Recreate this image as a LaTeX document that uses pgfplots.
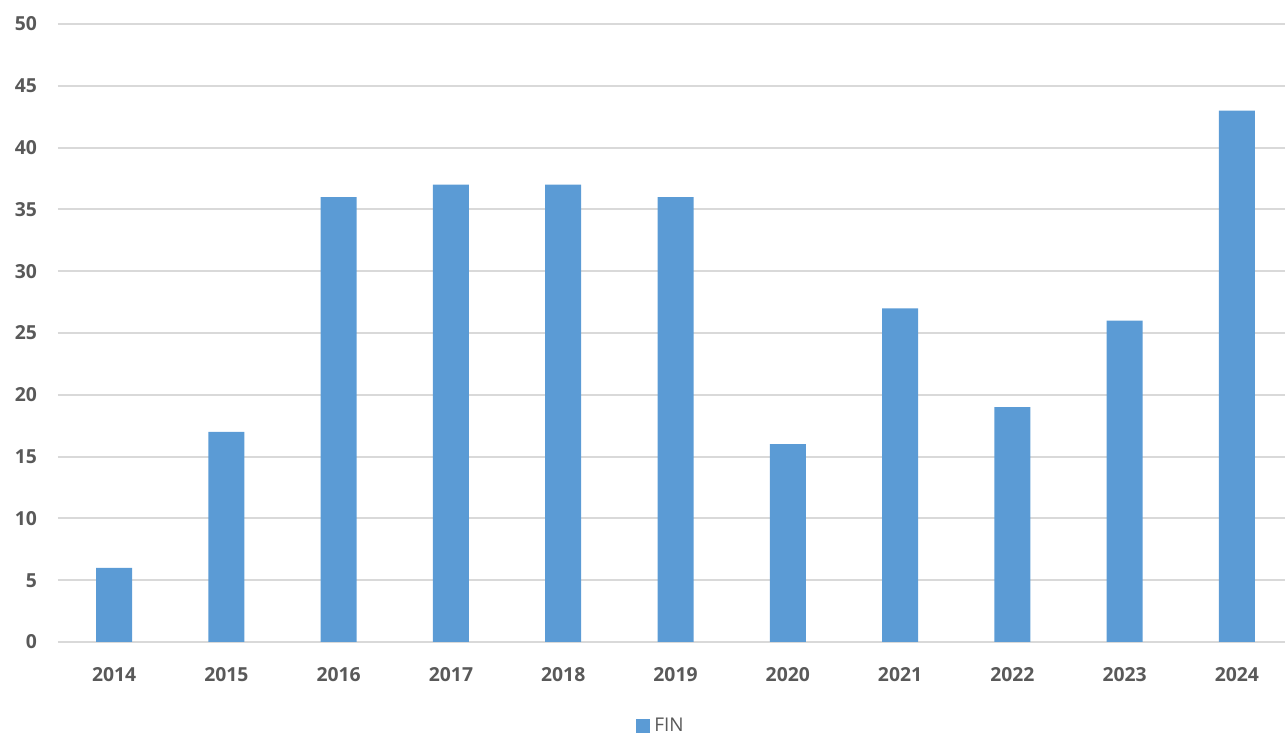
\documentclass[border=0pt]{standalone}
\usepackage{pgfplots}
\pgfplotsset{compat=1.18}
\usepackage{fontspec}
\setmainfont{Open Sans}
\definecolor{barblue}{HTML}{5B9BD5}
\definecolor{txtgray}{HTML}{595959}
\definecolor{gridgray}{HTML}{D9D9D9}
\begin{document}
\begin{tikzpicture}
\path[use as bounding box] (0,0) rectangle (642.5bp,368bp);
\begin{axis}[
  at={(29bp,47bp)}, anchor=south west,
  scale only axis,
  width=617.5bp, height=309bp,
  ymin=0, ymax=50, ytick={0,5,...,50},
  xmin=-0.5, xmax=10.5,
  xtick=data,
  xticklabels={2014,2015,2016,2017,2018,2019,2020,2021,2022,2023,2024},
  axis line style={draw=none},
  major tick length=0pt,
  ymajorgrids, grid style={gridgray, line width=1bp},
  ybar, bar width=18bp,
  /pgf/number format/assume math mode=true,
  tick label style={font=\fontsize{9.7}{11}\selectfont\bfseries, text=txtgray},
  yticklabel style={xshift=-7bp},
  xticklabel style={yshift=-9bp},
  legend style={at={(0.489,-0.136)}, anchor=center, draw=none,
    font=\fontsize{9.5}{11}\selectfont, text=txtgray},
  legend image code/.code={\fill[barblue] (0bp,-3.5bp) rectangle (7bp,3.5bp);},
]
\addplot[fill=barblue, draw=none] coordinates {
(0,6) (1,17) (2,36) (3,37) (4,37) (5,36) (6,16) (7,27) (8,19) (9,26) (10,43)};
\addlegendentry{FIN}
\end{axis}
\end{tikzpicture}
\end{document}
